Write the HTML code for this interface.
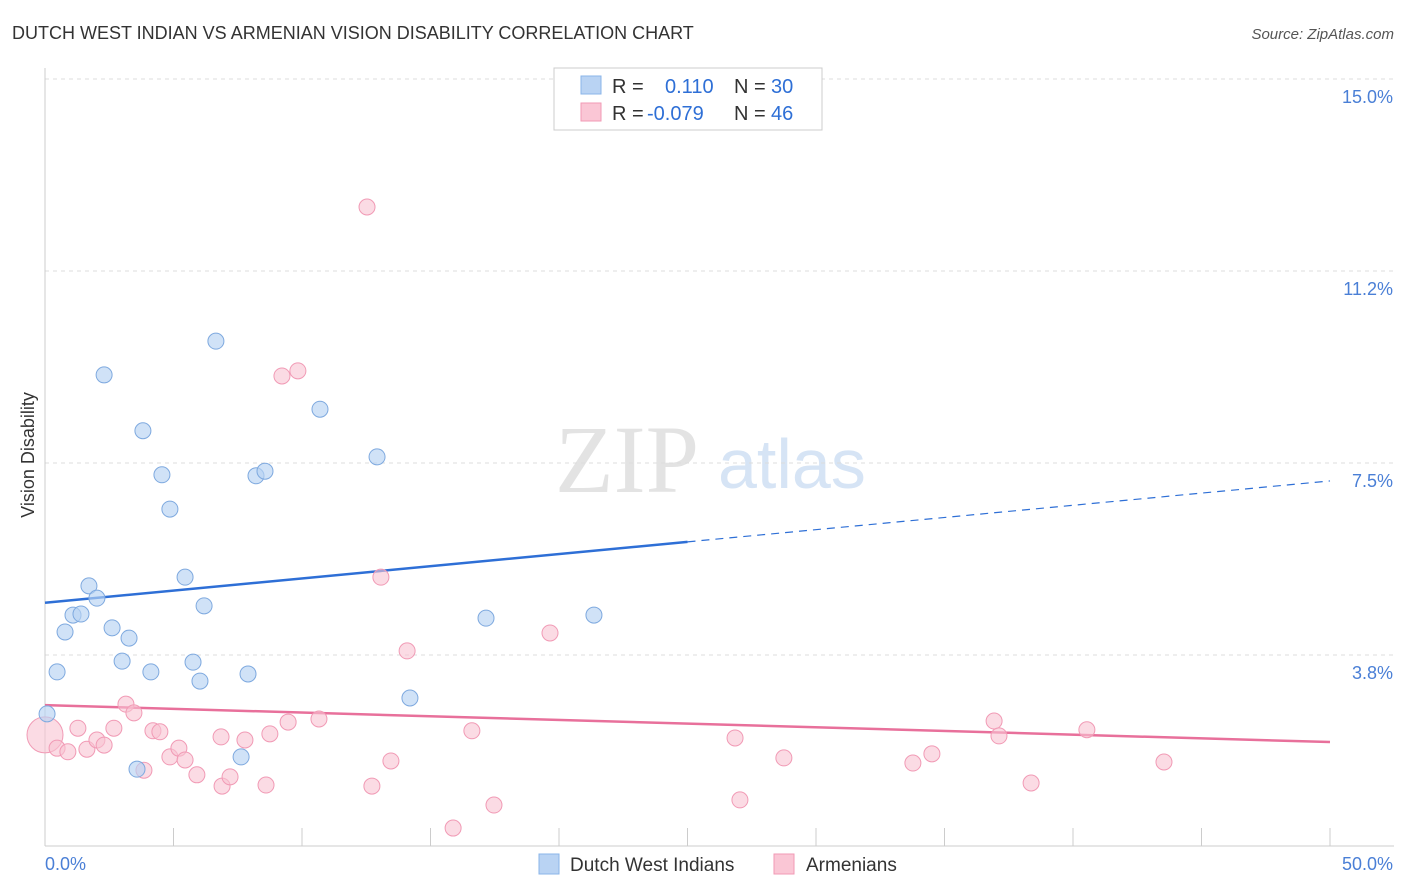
<!DOCTYPE html>
<html><head><meta charset="utf-8"><style>
body{margin:0;background:#fff;font-family:"Liberation Sans",sans-serif;}
svg{display:block}
</style></head><body>
<svg id="chart" width="1406" height="892" xmlns="http://www.w3.org/2000/svg">
<text x="12" y="39" font-size="18" fill="#333">DUTCH WEST INDIAN VS ARMENIAN VISION DISABILITY CORRELATION CHART</text>
<text x="1394" y="39" font-size="15" fill="#555" font-style="italic" text-anchor="end">Source: ZipAtlas.com</text>
<text x="555" y="492" font-size="96" fill="#e3e3e3" font-family="Liberation Serif,serif">ZIP</text>
<text x="718" y="488" font-size="70" fill="#d6e4f5">atlas</text>
<text transform="translate(34,455) rotate(-90)" font-size="18" fill="#333" text-anchor="middle">Vision Disability</text>
<g id="grid"></g><g id="axes"></g><g id="trend"></g><g id="pts"></g>
<g>
<rect x="554" y="68" width="268" height="62" fill="#fff" stroke="#ccc"/>
<rect x="581" y="76" width="20" height="18" fill="#b9d3f3" stroke="#8ab4e8"/>
<rect x="581" y="103" width="20" height="18" fill="#fac6d5" stroke="#f19ab5"/>
<text x="612" y="93" font-size="20" fill="#333">R =</text><text x="665" y="93" font-size="20" fill="#2e6fd6">0.110</text>
<text x="734" y="93" font-size="20" fill="#333">N =</text><text x="771" y="93" font-size="20" fill="#2e6fd6">30</text>
<text x="612" y="120" font-size="20" fill="#333">R =</text><text x="647" y="120" font-size="20" fill="#2e6fd6">-0.079</text>
<text x="734" y="120" font-size="20" fill="#333">N =</text><text x="771" y="120" font-size="20" fill="#2e6fd6">46</text>
</g>
<g>
<rect x="539" y="854" width="20" height="20" fill="#b9d3f3" stroke="#8ab4e8"/>
<text x="570" y="871" font-size="19" fill="#333">Dutch West Indians</text>
<rect x="774" y="854" width="20" height="20" fill="#fac6d5" stroke="#f19ab5"/>
<text x="806" y="871" font-size="19" fill="#333">Armenians</text>
</g>
</svg>
<script>
const blueX=[0.08,0.47,0.78,1.09,1.4,1.71,2.02,2.3,2.61,3.0,3.27,3.58,3.81,4.12,4.55,4.86,5.45,5.76,6.03,6.19,6.65,7.63,7.9,8.21,8.56,10.7,12.92,14.2,17.16,21.36];
const blueY=[2.6,3.42,4.2,4.53,4.55,5.1,4.86,9.22,4.28,3.63,4.08,1.52,8.13,3.42,7.27,6.6,5.27,3.61,3.24,4.71,9.88,1.76,3.38,7.25,7.34,8.55,7.62,2.91,4.47,4.53];
const pinkX=[0,0.47,0.89,1.28,1.63,2.02,2.3,2.68,3.15,3.46,3.85,4.2,4.47,4.86,5.21,5.45,5.91,6.89,6.85,7.2,7.78,8.6,8.75,9.22,9.46,9.84,10.66,12.53,12.72,13.07,13.46,14.09,15.88,16.61,17.47,19.65,26.85,27.04,28.75,33.77,34.51,36.93,37.12,38.37,40.54,43.54];
const pinkY=[2.19,1.93,1.86,2.32,1.91,2.09,1.99,2.32,2.79,2.62,1.5,2.27,2.25,1.76,1.93,1.7,1.41,1.19,2.15,1.37,2.09,1.21,2.21,9.2,2.44,9.3,2.5,12.5,1.19,5.27,1.68,3.83,0.37,2.27,0.82,4.18,2.13,0.92,1.74,1.64,1.82,2.46,2.17,1.25,2.29,1.66];
const yTicks=[3.75,7.5,11.25,15];
const yTickLabels=["3.8%","7.5%","11.2%","15.0%"];
const blueTrend=[4.77,7.15];
const pinkTrend=[2.77,2.05];
const X=v=>45+v*25.7, Y=v=>847-v*51.2;
const NS="http://www.w3.org/2000/svg";
function mk(tag,attrs,parent){const e=document.createElementNS(NS,tag);for(const k in attrs)e.setAttribute(k,attrs[k]);document.getElementById(parent).appendChild(e);return e;}
yTicks.forEach((t,i)=>{
 const g=mk('line',{x1:45,x2:1394,y1:Y(t),y2:Y(t),stroke:'#dcdcdc','stroke-dasharray':'4,4'},'grid');
 
 
 const l=mk('text',{x:1393,y:Y(t)+24,'font-size':18,fill:'#4a7fd6','text-anchor':'end'},'grid');
 l.textContent=yTickLabels[i];
 
 
});
let a=mk('line',{x1:45,x2:45,y1:68,y2:846,stroke:'#ccc'},'axes');


a=mk('line',{x1:45,x2:1394,y1:846,y2:846,stroke:'#ccc'},'axes');


for(let i=0;i<=10;i++){const t=mk('line',{x1:X(i*5),x2:X(i*5),y1:828,y2:846,stroke:'#ccc'},'axes');
 
 }
[[0,"0.0%",'start',45],[50,"50.0%",'end',1393]].forEach(d=>{const t=mk('text',{x:d[3],y:870,'font-size':18,fill:'#4a7fd6','text-anchor':d[2]},'axes');t.textContent=d[1];
 
 });
const bm=blueTrend[0]+(blueTrend[1]-blueTrend[0])*0.5;
let ln=mk('line',{x1:X(0),y1:Y(blueTrend[0]),x2:X(25),y2:Y(bm),stroke:'#2e6fd6','stroke-width':2.5},'trend');


ln=mk('line',{x1:X(25),y1:Y(bm),x2:X(50),y2:Y(blueTrend[1]),stroke:'#2e6fd6','stroke-width':1.2,'stroke-dasharray':'8,6'},'trend');


ln=mk('line',{x1:X(0),y1:Y(pinkTrend[0]),x2:X(50),y2:Y(pinkTrend[1]),stroke:'#e8709b','stroke-width':2.5},'trend');


pinkX.forEach((x,i)=>{const c=mk('circle',{cx:X(x),cy:Y(pinkY[i]),r:i===0?18:8,fill:'#f9c3d2','fill-opacity':0.6,stroke:'#f19ab5','stroke-width':1},'pts');
 
 });
blueX.forEach((x,i)=>{const c=mk('circle',{cx:X(x),cy:Y(blueY[i]),r:8,fill:'#b7d2f2','fill-opacity':0.65,stroke:'#7ea9df','stroke-width':1},'pts');
 
 });
</script>
</body></html>
